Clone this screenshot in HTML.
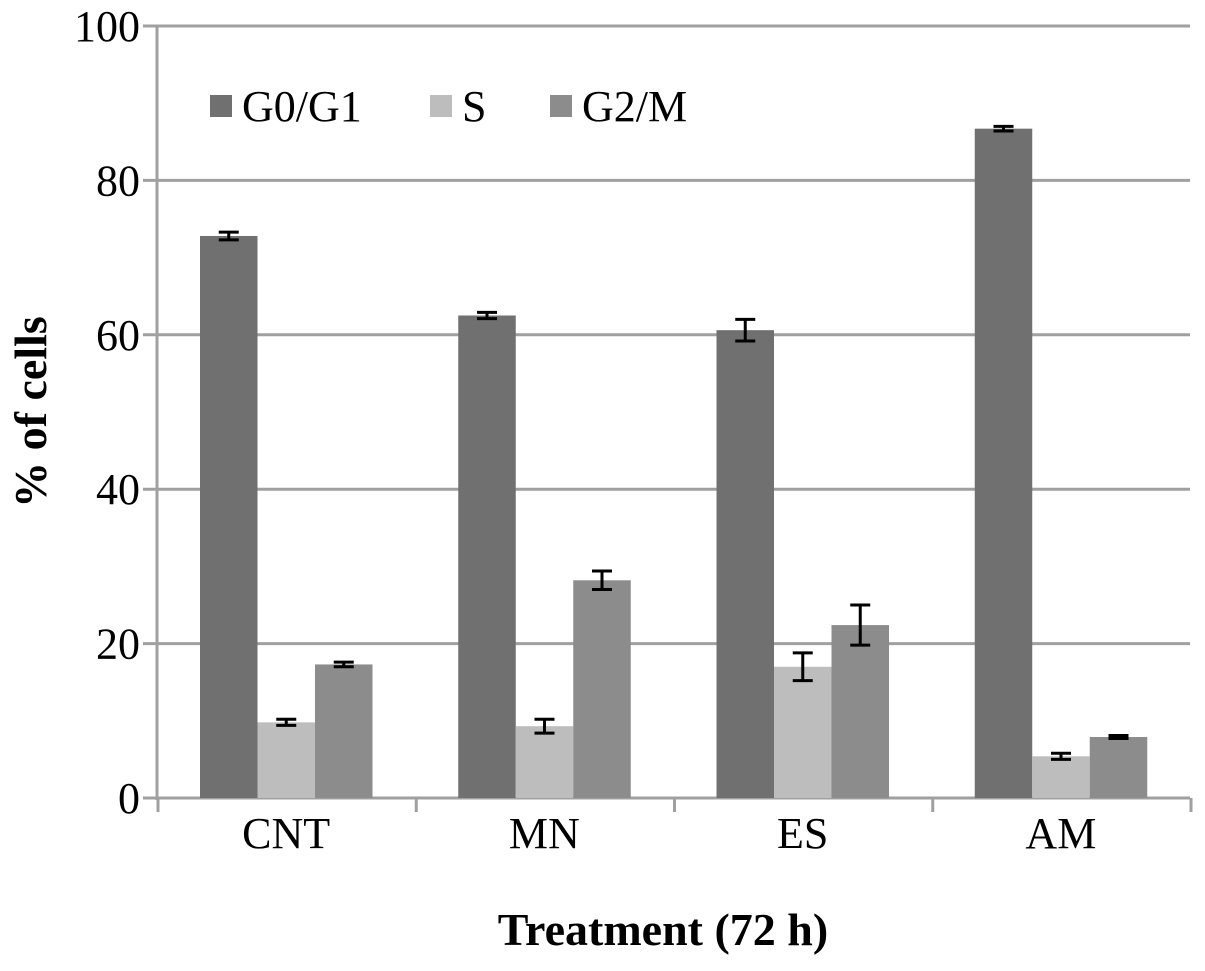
<!DOCTYPE html>
<html><head><meta charset="utf-8"><style>
body{margin:0;background:#fff}
svg text{font-family:"Liberation Serif",serif;fill:#000}
</style></head><body>
<svg width="1205" height="966" id="c"></svg>
<script>
const categories=["CNT","MN","ES","AM"];
const seriesNames=["G0/G1","S","G2/M"];
const g0g1=[72.8,62.5,60.6,86.7];
const sPhase=[9.8,9.3,17.0,5.4];
const g2m=[17.3,28.2,22.4,7.9];
const g0g1Err=[0.5,0.4,1.4,0.3];
const sErr=[0.4,0.9,1.8,0.4];
const g2mErr=[0.3,1.2,2.6,0.2];
const yTicks=[0,20,40,60,80,100];
const colors=["#707070","#bdbdbd","#8c8c8c"];
const svg=document.getElementById('c');
const NS="http://www.w3.org/2000/svg";
const X0=157,X1=1190,Y0=798,Y1=26;
const y=v=>Y0-(v/100)*(Y0-Y1);
const gw=(X1-X0)/categories.length;
const bw=57.5;
const x=(i,s)=>X0+i*gw+43+s*bw;
function mk(t,a,p){const e=document.createElementNS(NS,t);for(const k in a)e.setAttribute(k,a[k]);(p||svg).appendChild(e);return e;}
yTicks.forEach(t=>{
  const l=mk('line',{x1:143,x2:X1,y1:y(t),y2:y(t),stroke:'#a0a0a0','stroke-width':3});
  
  
  const tx=mk('text',{x:140,y:y(t)+15,'text-anchor':'end','font-size':44});
  tx.textContent=t;
  
  
});
const ax=mk('line',{x1:X0,x2:X0,y1:Y1-1,y2:Y0+2,stroke:'#a0a0a0','stroke-width':3});


for(let i=0;i<=categories.length;i++){
  const t=mk('line',{x1:X0+i*gw+1,x2:X0+i*gw+1,y1:Y0,y2:Y0+14,stroke:'#a0a0a0','stroke-width':3});
  
  
}
const data=[g0g1,sPhase,g2m],errs=[g0g1Err,sErr,g2mErr];
categories.forEach((c,i)=>{
  data.forEach((d,s)=>{
    const r=mk('rect',{x:x(i,s),y:y(d[i]),width:bw,height:Y0-y(d[i]),fill:colors[s]});
    
    
    const cx=x(i,s)+bw/2,e=errs[s][i];
    const g=mk('g',{stroke:'#000','stroke-width':3});
    
    
    mk('line',{x1:cx,x2:cx,y1:y(d[i]+e),y2:y(d[i]-e)},g);
    mk('line',{x1:cx-10,x2:cx+10,y1:y(d[i]+e),y2:y(d[i]+e)},g);
    mk('line',{x1:cx-10,x2:cx+10,y1:y(d[i]-e),y2:y(d[i]-e)},g);
  });
  const t=mk('text',{x:X0+i*gw+gw/2,y:848,'text-anchor':'middle','font-size':44});
  t.textContent=c;
  
  
});
const lx=[210,430,550];
seriesNames.forEach((n,s)=>{
  const r=mk('rect',{x:lx[s],y:95,width:22,height:22,fill:colors[s]});
  
  
  const t=mk('text',{x:lx[s]+32,y:121,'font-size':44});
  t.textContent=n;
  
  
});
const yt=mk('text',{x:0,y:0,'text-anchor':'middle','font-size':46,'font-weight':'bold',transform:'translate(46,412) rotate(-90)'});
yt.textContent='% of cells';


const xt=mk('text',{x:663,y:945,'text-anchor':'middle','font-size':46,'font-weight':'bold'});
xt.textContent='Treatment (72 h)';


</script>
</body></html>
